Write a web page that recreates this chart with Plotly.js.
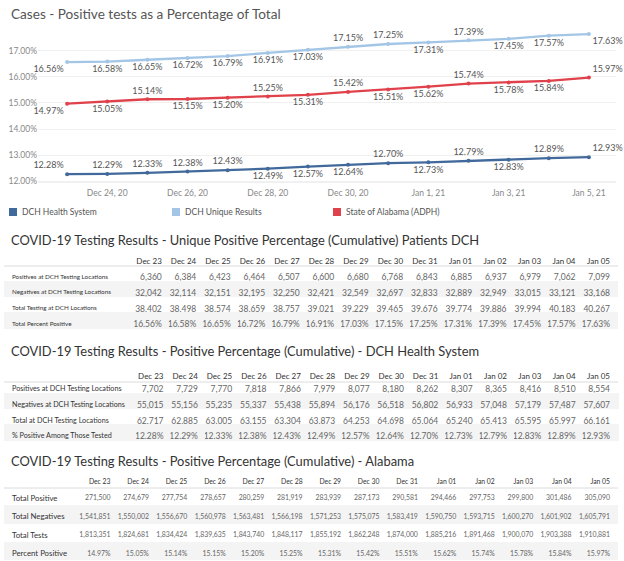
<!DOCTYPE html>
<html><head><meta charset="utf-8">
<script src="https://cdn.plot.ly/plotly-3.0.1.min.js"></script>
<style>html,body{margin:0;padding:0;background:#fff;}#chart{width:624px;height:561px;}</style>
</head><body><div id="chart"></div>
<script>
// ---- data ----
const chartDates = ['2020-12-23','2020-12-24','2020-12-25','2020-12-26','2020-12-27','2020-12-28','2020-12-29','2020-12-30','2020-12-31','2021-01-01','2021-01-02','2021-01-03','2021-01-04','2021-01-05'];
const dayLabels = ['Dec 23','Dec 24','Dec 25','Dec 26','Dec 27','Dec 28','Dec 29','Dec 30','Dec 31','Jan 01','Jan 02','Jan 03','Jan 04','Jan 05'];

const dchSystemPct = [12.28,12.29,12.33,12.38,12.43,12.49,12.57,12.64,12.70,12.73,12.79,12.83,12.89,12.93];
const dchUniquePct = [16.56,16.58,16.65,16.72,16.79,16.91,17.03,17.15,17.25,17.31,17.39,17.45,17.57,17.63];
const alabamaPct   = [14.97,15.05,15.14,15.15,15.20,15.25,15.31,15.42,15.51,15.62,15.74,15.78,15.84,15.97];

const uniquePositives = [6360,6384,6423,6464,6507,6600,6680,6768,6843,6885,6937,6979,7062,7099];
const uniqueNegatives = [32042,32114,32151,32195,32250,32421,32549,32697,32833,32889,32949,33015,33121,33168];
const uniqueTotal     = [38402,38498,38574,38659,38757,39021,39229,39465,39676,39774,39886,39994,40183,40267];

const systemPositives = [7702,7729,7770,7818,7866,7979,8077,8180,8262,8307,8365,8416,8510,8554];
const systemNegatives = [55015,55156,55235,55337,55438,55894,56176,56518,56802,56933,57048,57179,57487,57607];
const systemTotal     = [62717,62885,63005,63155,63304,63873,64253,64698,65064,65240,65413,65595,65997,66161];

const alPositives = [271500,274679,277754,278657,280259,281919,283939,287173,290581,294466,297753,299800,301486,305090];
const alNegatives = [1541851,1550002,1556670,1560978,1563481,1566198,1571253,1575075,1583419,1590750,1593715,1600270,1601902,1605791];
const alTotal     = [1813351,1824681,1834424,1839635,1843740,1848117,1855192,1862248,1874000,1885216,1891468,1900070,1903388,1910881];

const table1Rows = ['Positives at DCH Testing Locations','Negatives at DCH Testing Locations','Total Testing at DCH Locations','Total Percent Positive'];
const table2Rows = ['Positives at DCH Testing Locations','Negatives at DCH Testing Locations','Total at DCH Testing Locations','% Positive Among Those Tested'];
const table3Rows = ['Total Positive','Total Negatives','Total Tests','Percent Positive'];

// ---- label placement (style) ----
const uniqueLabelPos = ['bottom left','bottom center','bottom center','bottom center','bottom center','bottom center','bottom center','top center','top center','bottom center','top center','bottom center','bottom center','bottom right'];
const alabamaLabelPos = ['bottom left','bottom center','top center','bottom center','bottom center','top center','bottom center','top center','bottom center','bottom center','top center','bottom center','bottom center','top right'];
const systemLabelPos = ['top left','top center','top center','top center','top center','bottom center','bottom center','bottom center','top center','bottom center','top center','bottom center','top center','top right'];

// ---- helpers ----
const W = 624, H = 561;
const px = x => x / W, py = y => 1 - y / H;
const fmtPct = v => v.toFixed(2) + '%';
const fmtNum = v => v.toLocaleString('en-US');
const nb = s => s.replace(/ /g, '\u00a0');
const FONT = 'Lato, "Noto Sans", sans-serif';

const COL_SYS = '#41699b', COL_UNI = '#a3c6e6', COL_AL = '#e0424b';

function lineTrace(y, color, pos, name) {
  return {
    type: 'scatter', mode: 'lines+markers+text', name: name,
    x: chartDates, y: y, text: y.map(fmtPct), textposition: pos,
    textfont: {family: FONT, size: 9, color: '#555'},
    line: {color: color, width: 2.3}, marker: {color: color, size: 4},
    cliponaxis: false, hoverinfo: 'skip', showlegend: false
  };
}

function tableTrace(rows, cols, domX, domY, opts) {
  const cellCols = [rows.map(nb)].concat(cols);
  const rowFill = ['#ffffff','#f4f4f4','#ffffff','#f4f4f4'];
  return {
    type: 'table', domain: {x: domX, y: domY},
    columnwidth: [opts.labelW].concat(dayLabels.map(() => opts.colW)),
    header: {
      values: [''].concat(dayLabels.map(nb)), align: 'right', height: opts.headH,
      font: {family: FONT, size: opts.headSize, color: '#333'},
      fill: {color: '#ffffff'}, line: {color: '#ffffff', width: 1}
    },
    cells: {
      values: cellCols, align: ['left','right'], height: opts.rowH,
      font: {family: FONT, size: [opts.labelSize, opts.numSize], color: ['#333','#666']},
      fill: {color: [rowFill]}, line: {color: [rowFill], width: 1}
    }
  };
}

const t1cols = dayLabels.map((d, i) => [fmtNum(uniquePositives[i]), fmtNum(uniqueNegatives[i]), fmtNum(uniqueTotal[i]), fmtPct(dchUniquePct[i])]);
const t2cols = dayLabels.map((d, i) => [fmtNum(systemPositives[i]), fmtNum(systemNegatives[i]), fmtNum(systemTotal[i]), fmtPct(dchSystemPct[i])]);
const t3cols = dayLabels.map((d, i) => [fmtNum(alPositives[i]), fmtNum(alNegatives[i]), fmtNum(alTotal[i]), fmtPct(alabamaPct[i])]);

const data = [
  lineTrace(dchUniquePct, COL_UNI, uniqueLabelPos, 'DCH Unique Results'),
  lineTrace(alabamaPct, COL_AL, alabamaLabelPos, 'State of Alabama (ADPH)'),
  lineTrace(dchSystemPct, COL_SYS, systemLabelPos, 'DCH Health System'),
  tableTrace(table1Rows, t1cols, [px(4), px(618)], [py(333), py(250)],
    {labelW: 131, colW: 34.4, headH: 16, rowH: 15.6, headSize: 8, labelSize: 6.3, numSize: 8.5}),
  tableTrace(table2Rows, t2cols, [px(4), px(618)], [py(449), py(365)],
    {labelW: 133, colW: 34.3, headH: 13, rowH: 15.6, headSize: 8, labelSize: 7.2, numSize: 8.5}),
  tableTrace(table3Rows, t3cols, [px(4), px(618)], [py(561), py(471)],
    {labelW: 76, colW: 38.4, headH: 16, rowH: 18.5, headSize: 6.8, labelSize: 7.8, numSize: 6.9})
];

const ann = [];
const addText = (x, y, text, size, color) => ann.push({xref: 'paper', yref: 'paper', x: px(x), y: py(y), xanchor: 'left', yanchor: 'middle', showarrow: false, text: text, font: {family: FONT, size: size, color: color}});
addText(9, 14, 'Cases - Positive tests as a Percentage of Total', 13.6, '#555');
addText(9, 240, 'COVID-19 Testing Results - Unique Positive Percentage (Cumulative) Patients DCH', 12.9, '#333');
addText(9, 351, 'COVID-19 Testing Results - Positive Percentage (Cumulative) - DCH Health System', 12.9, '#333');
addText(9, 461, 'COVID-19 Testing Results - Positive Percentage (Cumulative) - Alabama', 12.9, '#333');

const legendItems = [
  {x: 9, label: 'DCH Health System', color: COL_SYS},
  {x: 172, label: 'DCH Unique Results', color: COL_UNI},
  {x: 333, label: 'State of Alabama (ADPH)', color: COL_AL}
];
const shapes = [];
legendItems.forEach(it => {
  shapes.push({type: 'rect', xref: 'paper', yref: 'paper', x0: px(it.x), x1: px(it.x + 8), y0: py(216), y1: py(208), fillcolor: it.color, line: {width: 0}});
  addText(it.x + 11, 212, it.label, 8.5, '#555');
});
[266, 382, 488].forEach(y => shapes.push({type: 'line', xref: 'paper', yref: 'paper', x0: px(4), x1: px(618), y0: py(y), y1: py(y), line: {color: '#dcdcdc', width: 1}}));

const layout = {
  width: W, height: H, margin: {l: 0, r: 0, t: 0, b: 0},
  paper_bgcolor: '#fff', plot_bgcolor: '#fff',
  font: {family: FONT, color: '#555'},
  showlegend: false,
  xaxis: {
    domain: [px(38), px(616)], type: 'date',
    range: ['2020-12-22 06:36', '2021-01-05 16:12'],
    tick0: '2020-12-24', dtick: 2 * 86400000, tickformat: '%b %-d, %y',
    tickfont: {family: FONT, size: 8.5, color: '#888'}, ticklabelstandoff: 4,
    showgrid: false, zeroline: false, showline: false, ticks: '', ticklen: 0
  },
  yaxis: {
    domain: [py(182), py(27)], range: [11.98, 17.9],
    tickvals: [12, 13, 14, 15, 16, 17], ticktext: ['12.00%','13.00%','14.00%','15.00%','16.00%','17.00%'],
    tickfont: {family: FONT, size: 8.5, color: '#888'},
    showgrid: true, gridcolor: '#f0f0f0', zeroline: false, showline: false, ticks: ''
  },
  shapes: shapes.concat([{type: 'line', xref: 'paper', yref: 'paper', x0: px(38), x1: px(616), y0: py(182), y1: py(182), line: {color: '#e2e2e2', width: 1}}]),
  annotations: ann
};

Plotly.newPlot('chart', data, layout, {displayModeBar: false, staticPlot: true});
</script></body></html>
